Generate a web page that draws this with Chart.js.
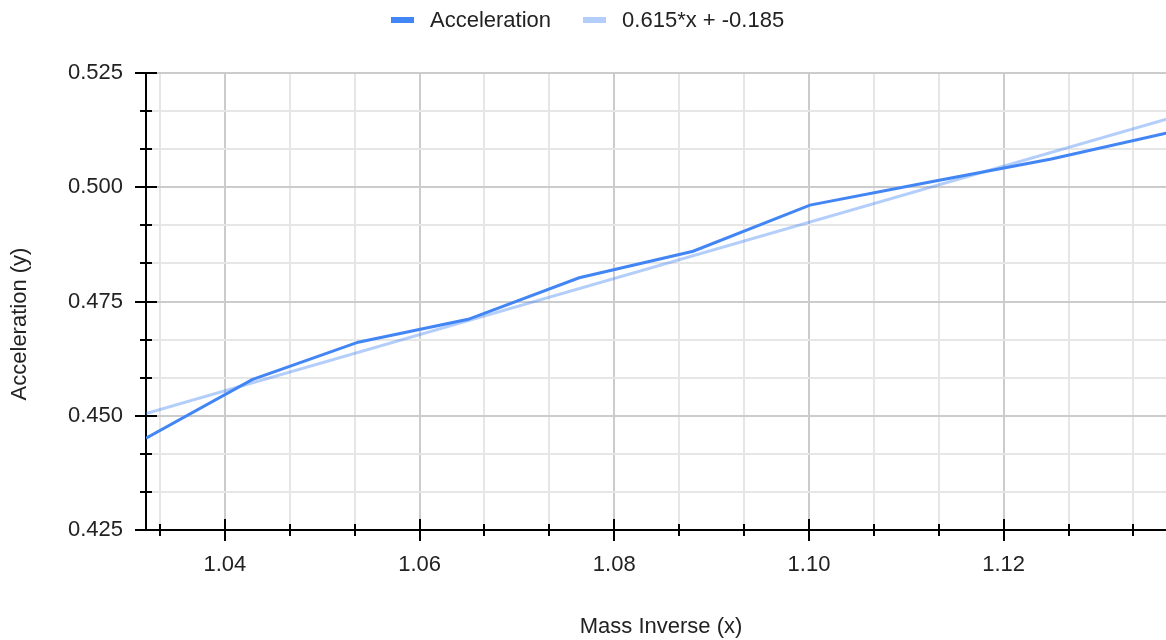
<!DOCTYPE html>
<html>
<head>
<meta charset="utf-8">
<title>Acceleration vs Mass Inverse</title>
<script src="https://cdn.jsdelivr.net/npm/chart.js@4.4.0/dist/chart.umd.min.js"></script>
<style>
    html, body { margin: 0; padding: 0; background: #fff; overflow: hidden; }
    #wrap { position: relative; width: 1176px; height: 640px; }
    #legend {
        position: absolute; top: 9px; left: 391px; height: 22px;
        display: flex; align-items: center;
        font: 22px "Liberation Sans", Arial, sans-serif; line-height: 22px; color: #222;
        white-space: nowrap;
    }
    #legend .item { display: flex; align-items: center; margin-right: 32px; }
    #legend .swatch { width: 23px; height: 6px; margin-right: 16px; }
</style>
</head>
<body>
<div id="wrap">
    <canvas id="accelChart" width="1176" height="640"></canvas>
    <div id="legend"></div>
</div>
<script>
// values
const massInverse = [1.0319, 1.0428, 1.0537, 1.0650, 1.0764, 1.0881, 1.1001, 1.1123, 1.1249, 1.1377];
const acceleration = [0.4451, 0.4579, 0.4661, 0.4711, 0.4802, 0.4860, 0.4961, 0.5011, 0.5062, 0.5123];
const trendX = [1.0319, 1.1377];
const trendY = [0.4505, 0.5155];
const trendLabel = '0.615*x + -0.185';
const xTickLabels = ['1.04', '1.06', '1.08', '1.10', '1.12'];
const yTickLabels = ['0.425', '0.450', '0.475', '0.500', '0.525'];

const xMajor = xTickLabels.map(Number);
const yMajor = yTickLabels.map(Number);
const xMin = massInverse[0], xMax = massInverse[massInverse.length - 1];
const yMin = yMajor[0], yMax = yMajor[yMajor.length - 1];

// major ticks plus two minor ticks between each pair
function withMinor(major, lo, hi) {
    const step = (major[1] - major[0]) / 3;
    const first = major[0] - Math.floor((major[0] - lo) / step + 1e-9) * step;
    const out = [];
    for (let i = 0; first + i * step <= hi + 1e-9; i++) {
        out.push(+(first + i * step).toFixed(6));
    }
    return out;
}
const xTicks = withMinor(xMajor, xMin, xMax);
const yTicks = withMinor(yMajor, yMin, yMax);

function labelFor(major, labels, v) {
    const i = major.findIndex(m => Math.abs(m - v) < 1e-6);
    return i >= 0 ? labels[i] : '';
}
const isMajor = (major, v) => major.some(m => Math.abs(m - v) < 1e-6);

Chart.defaults.font.family = '"Liberation Sans", Arial, sans-serif';
Chart.defaults.font.size = 22;
Chart.defaults.color = '#222';

const tickMarks = {
    id: 'tickMarks',
    afterDraw(chart) {
        const { ctx, chartArea, scales: { x, y } } = chart;
        ctx.save();
        ctx.strokeStyle = '#000';
        ctx.lineWidth = 2;
        ctx.beginPath();
        x.ticks.forEach(t => {
            const px = Math.round(x.getPixelForValue(t.value));
            const h = isMajor(xMajor, t.value) ? 11 : 6;
            ctx.moveTo(px, chartArea.bottom - h);
            ctx.lineTo(px, chartArea.bottom + h);
        });
        y.ticks.forEach(t => {
            const py = Math.round(y.getPixelForValue(t.value));
            const h = isMajor(yMajor, t.value) ? 11 : 6;
            ctx.moveTo(chartArea.left - h, py);
            ctx.lineTo(chartArea.left + h, py);
        });
        ctx.stroke();

        // y axis title (centred a bit lower than the plot, as in the reference)
        ctx.translate(20, 324);
        ctx.rotate(-Math.PI / 2);
        ctx.fillStyle = '#222';
        ctx.font = '22px "Liberation Sans", Arial, sans-serif';
        ctx.textAlign = 'center';
        ctx.textBaseline = 'middle';
        ctx.fillText('Acceleration (y)', 0, 0);
        ctx.restore();
    }
};

const ctx = document.getElementById('accelChart').getContext('2d');
const accelChart = new Chart(ctx, {
    type: 'scatter',
    data: {
        datasets: [{
            label: 'Acceleration',
            data: massInverse.map((v, i) => ({ x: v, y: acceleration[i] })),
            showLine: true,
            borderColor: '#4285f4',
            backgroundColor: '#4285f4',
            borderWidth: 3,
            pointRadius: 0,
            tension: 0
        }, {
            label: trendLabel,
            data: trendX.map((v, i) => ({ x: v, y: trendY[i] })),
            showLine: true,
            borderColor: 'rgba(66, 133, 244, 0.4)',
            backgroundColor: 'rgba(66, 133, 244, 0.4)',
            borderWidth: 3,
            pointRadius: 0
        }]
    },
    options: {
        responsive: false,
        animation: false,
        events: [],
        layout: { padding: { top: 73, left: 0, right: 0, bottom: 0 } },
        plugins: {
            legend: { display: false },
            tooltip: { enabled: false }
        },
        scales: {
            x: {
                type: 'linear',
                min: xMin,
                max: xMax,
                afterBuildTicks: scale => { scale.ticks = xTicks.map(v => ({ value: v })); },
                afterFit: scale => { scale.height = 110; },
                ticks: {
                    autoSkip: false,
                    maxRotation: 0,
                    minRotation: 0,
                    padding: 22,
                    callback: v => labelFor(xMajor, xTickLabels, v)
                },
                grid: {
                    drawTicks: false,
                    lineWidth: 2,
                    color: c => isMajor(xMajor, c.tick.value) ? '#cccccc' : '#e6e6e6'
                },
                border: { color: '#000', width: 2 },
                title: {
                    display: true,
                    text: 'Mass Inverse (x)',
                    padding: { top: 0, bottom: 0 },
                    color: '#222'
                }
            },
            y: {
                min: yMin,
                max: yMax,
                afterBuildTicks: scale => { scale.ticks = yTicks.map(v => ({ value: v })); },
                afterFit: scale => { scale.width = 146; },
                ticks: {
                    autoSkip: false,
                    padding: 23,
                    callback: v => labelFor(yMajor, yTickLabels, v)
                },
                grid: {
                    drawTicks: false,
                    lineWidth: 2,
                    color: c => isMajor(yMajor, c.tick.value) ? '#cccccc' : '#e6e6e6'
                },
                border: { color: '#000', width: 2 }
            }
        }
    },
    plugins: [tickMarks]
});

// html legend built from the datasets
const legend = document.getElementById('legend');
accelChart.data.datasets.forEach(ds => {
    const item = document.createElement('span');
    item.className = 'item';
    const sw = document.createElement('span');
    sw.className = 'swatch';
    sw.style.background = ds.borderColor;
    item.appendChild(sw);
    item.appendChild(document.createTextNode(ds.label));
    legend.appendChild(item);
});
</script>
</body>
</html>
